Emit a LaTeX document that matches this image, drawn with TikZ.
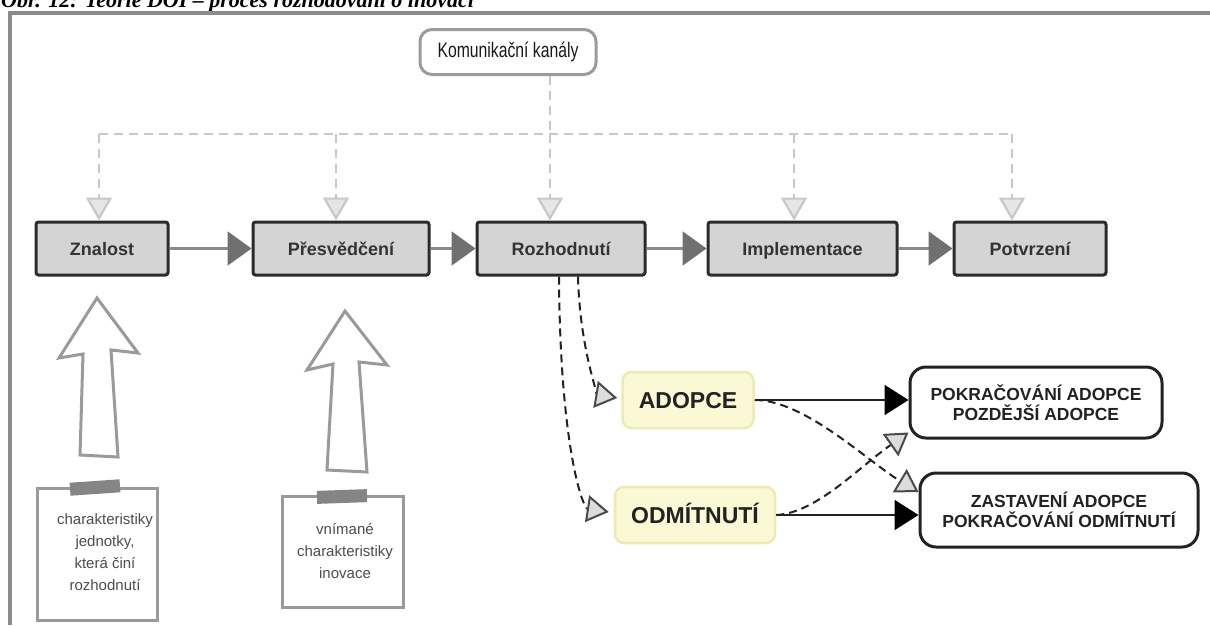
\documentclass[tikz,border=0pt]{standalone}
\usepackage{fontspec}
\setmainfont{Liberation Sans}
\newfontfamily\kanalfont[FakeStretch=0.75]{Liberation Sans}
\newfontfamily\captionfont{Liberation Serif}
\usetikzlibrary{arrows.meta}

\definecolor{framegray}{HTML}{8C8C8C}
\definecolor{boxfill}{HTML}{D4D4D4}
\definecolor{boxline}{HTML}{2B2B2B}
\definecolor{stagetext}{HTML}{333333}
\definecolor{flowline}{HTML}{8A8A8A}
\definecolor{flowhead}{HTML}{707070}
\definecolor{busgray}{HTML}{C8C8C8}
\definecolor{tipfill}{HTML}{E6E6E6}
\definecolor{channelline}{HTML}{9C9C9C}
\definecolor{notegray}{HTML}{9A9A9A}
\definecolor{tapegray}{HTML}{858585}
\definecolor{notetextgray}{HTML}{4D4D4D}
\definecolor{palefill}{HTML}{FBF8D5}
\definecolor{paleline}{HTML}{EEEAB8}
\definecolor{inkdark}{HTML}{222222}
\definecolor{linktip}{HTML}{DCDCDC}
\definecolor{linktipline}{HTML}{4A4A4A}

\tikzset{
  stagebox/.style={draw=boxline, line width=3pt, fill=boxfill, rounded corners=2.5pt,
    minimum height=53pt, inner sep=0pt, text height=14pt, text depth=1pt,
    font=\bfseries\fontsize{18}{20}\selectfont, text=stagetext},
  flowarrow/.style={draw=flowline, line width=2.2pt,
    -{Triangle[length=24pt,width=34pt,color=flowhead]}},
  hubline/.style={draw=busgray, line width=2.2pt, dash pattern=on 9pt off 6pt},
  hubarrow/.style={hubline, -{Triangle[length=23pt,width=26pt,color=busgray,fill=tipfill]}},
  channelbox/.style={draw=channelline, line width=3pt, rounded corners=12pt, fill=white,
    minimum width=176pt, minimum height=45pt, inner sep=0pt,
    font=\kanalfont\fontsize{21}{23}\selectfont, text=black!90},
  bigarrow/.style={draw=notegray, line width=3pt, fill=white, line join=miter},
  notebox/.style={draw=notegray, line width=3pt, fill=white, inner sep=0pt},
  notetext/.style={align=center, inner sep=0pt, font=\fontsize{15}{22}\selectfont, text=notetextgray},
  tape/.style={fill=tapegray, minimum width=50pt, minimum height=13pt, inner sep=0pt},
  choicebox/.style={draw=paleline, line width=2.5pt, fill=palefill, rounded corners=9pt,
    minimum height=56pt, inner sep=0pt, text height=16.5pt, text depth=0pt,
    font=\bfseries\fontsize{23}{25}\selectfont, text=inkdark},
  resultbox/.style={draw=inkdark, line width=3pt, rounded corners=16pt, fill=white, align=center,
    inner sep=0pt, font=\bfseries\fontsize{17.5}{20}\selectfont, text=inkdark},
  solidarrow/.style={draw=inkdark, line width=2pt,
    -{Triangle[length=24pt,width=30pt,color=black]}},
  choicelink/.style={draw=inkdark, line width=2pt, dash pattern=on 8pt off 5pt,
    -{Triangle[length=22pt,width=27pt,color=linktipline,fill=linktip]}}
}

\begin{document}
\begin{tikzpicture}[x=1pt,y=-1pt]
\useasboundingbox (0,0) rectangle (1210,625);
\fill[white] (0,0) rectangle (1210,625);

% caption line, cut by the upper page edge
\node[anchor=base west, inner sep=0pt, font=\captionfont\bfseries\itshape\fontsize{22}{22}\selectfont]
  (caption) at (1,7) {Obr. 12: Teorie DOI – proces rozhodování o inovaci};

% frame
\draw[framegray, line width=3.5pt] (10,625) -- (10,13) -- (1210,13);

% communication channels
\node[channelbox] (kom) at (508,52) {Komunikační kanály};

% stages of the decision process
\node[stagebox, minimum width=132pt] (zn) at (102,248.5) {Znalost};
\node[stagebox, minimum width=176pt] (pr) at (341,248.5) {Přesvědčení};
\node[stagebox, minimum width=168pt] (ro) at (561,248.5) {Rozhodnutí};
\node[stagebox, minimum width=189pt] (im) at (802.5,248.5) {Implementace};
\node[stagebox, minimum width=152pt] (po) at (1030,248.5) {Potvrzení};

\draw[flowarrow] (zn) -- (pr);
\draw[flowarrow] (pr) -- (ro);
\draw[flowarrow] (ro) -- (im);
\draw[flowarrow] (im) -- (po);

% channel distribution bus
\coordinate (hub) at (550,134);
\coordinate (busW) at (99,134);
\coordinate (busE) at (1012,134);
\coordinate (dropP) at (336,134);
\coordinate (dropI) at (794,134);
\draw[hubline] (kom.south -| hub) -- (hub);
\draw[hubline] (busW) -- (busE);
\draw[hubarrow] (busW) -- (busW |- zn.north);
\draw[hubarrow] (dropP) -- (dropP |- pr.north);
\draw[hubarrow] (hub) -- (hub |- ro.north);
\draw[hubarrow] (dropI) -- (dropI |- im.north);
\draw[hubarrow] (busE) -- (busE |- po.north);

% hollow arrows from the notes
\draw[bigarrow] (97,298) -- (138,353) -- (111,350) -- (118,457) -- (80,455) -- (83,354) -- (59,358) -- cycle;
\draw[bigarrow] (345,311) -- (387,365) -- (359,362) -- (367,472) -- (327,470) -- (333,364) -- (307,370) -- cycle;

% notes
\node[notebox, minimum width=120pt, minimum height=132pt] (noteA) at (97,554) {};
\node[notetext] (noteAtext) at (105,552) {charakteristiky\\jednotky,\\která činí\\rozhodnutí};
\node[tape, rotate=4] (tapeA) at (95,487.5) {};
\node[notebox, minimum width=121pt, minimum height=111pt] (noteB) at (342.5,551.5) {};
\node[notetext] (noteBtext) at (345,551) {vnímané\\charakteristiky\\inovace};
\node[tape, rotate=2] (tapeB) at (342,496.5) {};

% decision outcomes
\node[choicebox, minimum width=131pt] (ad) at (688,400) {ADOPCE};
\node[choicebox, minimum width=160pt] (od) at (695,515) {ODMÍTNUTÍ};
\node[resultbox, minimum width=252pt, minimum height=71pt] (pok) at (1036,402.5) {POKRAČOVÁNÍ ADOPCE\\POZDĚJŠÍ ADOPCE};
\node[resultbox, minimum width=278pt, minimum height=74pt] (zast) at (1059,510) {ZASTAVENÍ ADOPCE\\POKRAČOVÁNÍ ODMÍTNUTÍ};

\draw[choicelink] ([xshift=-2pt]ro.south) .. controls +(1,170) and +(-26,-4) .. ([xshift=-5pt,yshift=3pt]od.west);
\draw[choicelink] ([xshift=17pt]ro.south) .. controls +(2,75) and +(-18,-3) .. ([xshift=-4pt,yshift=2pt]ad.west);

\draw[solidarrow] (ad.east) -- (ad.east -| pok.west);
\draw[solidarrow] (od.east) -- (od.east -| zast.west);

\draw[choicelink] (ad.east) .. controls +(50,0) and +(-50,-30) .. ([yshift=18pt]zast.west);
\draw[choicelink] (od.east) .. controls +(40,-2) and +(-50,35) .. ([yshift=-30pt]pok.west);
\end{tikzpicture}
\end{document}
